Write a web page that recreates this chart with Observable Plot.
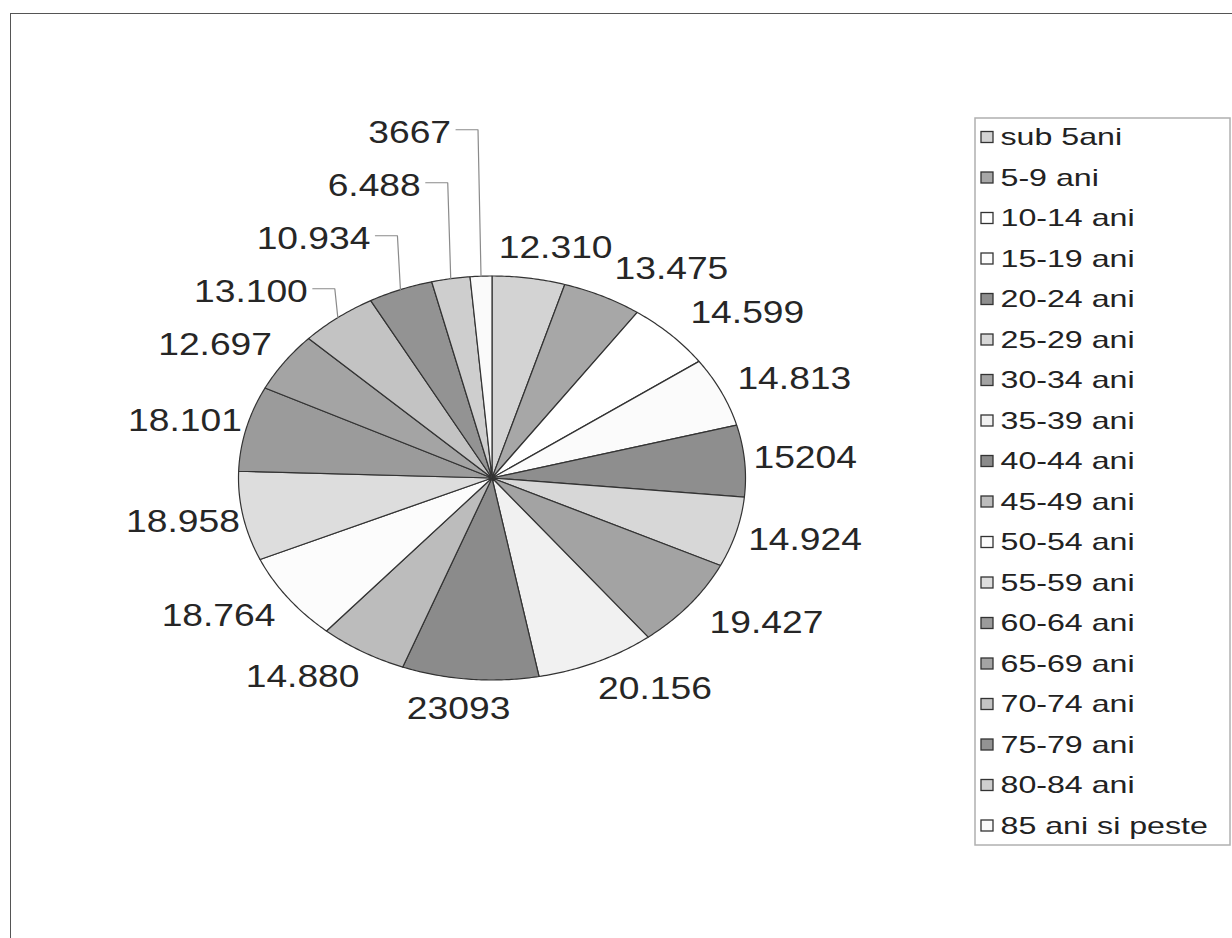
<!DOCTYPE html>
<html><head><meta charset="utf-8">
<script src="https://cdn.jsdelivr.net/npm/d3@7"></script>
<script src="https://cdn.jsdelivr.net/npm/@observablehq/plot@0.6"></script>
<style>
html,body{margin:0;padding:0;background:#fff;}
#wrap{position:relative;width:1232px;height:938px;overflow:hidden;}
#border{position:absolute;left:10px;top:13px;width:1240px;height:940px;border-left:1.5px solid #555;border-top:1.5px solid #555;pointer-events:none;}
</style></head><body>
<div id="wrap"><div id="chart"></div><div id="border"></div></div>
<script>
// ---- data ----
const categories = ["sub 5ani","5-9 ani","10-14 ani","15-19 ani","20-24 ani","25-29 ani","30-34 ani","35-39 ani","40-44 ani","45-49 ani","50-54 ani","55-59 ani","60-64 ani","65-69 ani","70-74 ani","75-79 ani","80-84 ani","85 ani si peste"];
const values = [12310,13475,14599,14813,15204,14924,19427,20156,23093,14880,18764,18958,18101,12697,13100,10934,6488,3667];
const valueLabels = ["12.310","13.475","14.599","14.813","15204","14.924","19.427","20.156","23093","14.880","18.764","18.958","18.101","12.697","13.100","10.934","6.488","3667"];
const fills = ["#d3d3d3","#a7a7a7","#ffffff","#fbfbfb","#8e8e8e","#d7d7d7","#a3a3a3","#f1f1f1","#8b8b8b","#bcbcbc","#fcfcfc","#dddddd","#9b9b9b","#a4a4a4","#c3c3c3","#939393","#cecece","#fafafa"];

// ---- layout ----
const W = 1232, H = 938;
const cx = 491.5, cy = 477.5, rx = 253.5, ry = 202;
const rxBase = 255, rxExtra = 80, ryL = 218, hHalf = 14, gapY = 53, labelDxRight = 7;
const LABEL_FS = 31, LABEL_STRETCH = 1.2;
const LEG_FS = 24, LEG_STRETCH = 1.34;
const legX1 = 975, legX2 = 1230, legY1 = 118, legY2 = 845, legRow0 = 137, legStep = 40.5;
const FONT = '"Liberation Sans", Arial, sans-serif';

const pt = (a, kx = rx, ky = ry) => [cx + kx * Math.sin(a), cy - ky * Math.cos(a)];
const arcs = d3.pie().sort(null).value(d => d)(values);

// slice polygons
const slicePts = [];
arcs.forEach((a, i) => {
  slicePts.push({k: i, x: cx, y: cy, f: fills[i]});
  const n = Math.max(2, Math.ceil((a.endAngle - a.startAngle) / 0.01));
  for (let j = 0; j <= n; j++) {
    const t = a.startAngle + (a.endAngle - a.startAngle) * j / n;
    const [x, y] = pt(t);
    slicePts.push({k: i, x, y, f: fills[i]});
  }
});

// labels
const ctx = document.createElement("canvas").getContext("2d");
ctx.font = `${LABEL_FS}px ${FONT}`;
const labs = arcs.map((a, i) => {
  const m = (a.startAngle + a.endAngle) / 2;
  const s = Math.sin(m), c = Math.cos(m);
  const w = ctx.measureText(valueLabels[i]).width * LABEL_STRETCH;
  const [px, py] = pt(m);
  const rxL = rxBase + rxExtra * c * c;
  return {i, m, s, c, w, px, py, text: valueLabels[i],
          x: cx + (s > 0 ? labelDxRight : 0) + (rxL + w / 2) * s, y: cy - (ryL + hHalf) * c, pushed: false};
});
// upper-left: push upward
const ul = labs.filter(d => d.s < 0 && d.c > 0).sort((a, b) => a.m - b.m);
for (let j = 1; j < ul.length; j++) {
  if (ul[j].y > ul[j - 1].y - gapY) { ul[j].y = ul[j - 1].y - gapY; ul[j].pushed = true; }
}
ul.forEach(d => { if (d.pushed) d.x = d.px - 30 - d.w / 2; });
// right side: resolve horizontal overlap
const rs = labs.filter(d => d.s > 0).sort((a, b) => a.m - b.m);
for (let j = 1; j < rs.length; j++) {
  const p = rs[j - 1], q = rs[j];
  if (Math.abs(q.y - p.y) < 2 * hHalf && q.x - q.w / 2 < p.x + p.w / 2 + 2) q.x = p.x + p.w / 2 + 2 + q.w / 2;
}
const leaders = [];
labs.filter(d => d.pushed).forEach(d => {
  const ex = d.x + d.w / 2;
  leaders.push({k: d.i, x: ex + 5, y: d.y - 3});
  leaders.push({k: d.i, x: d.px - 3, y: d.y - 3});
  leaders.push({k: d.i, x: d.px, y: d.py});
});

// legend
const legend = categories.map((c, i) => ({c, f: fills[i], y: legRow0 + i * legStep}));

const plot = Plot.plot({
  width: W, height: H, margin: 0,
  x: {domain: [0, W], range: [0, W], axis: null},
  y: {domain: [0, H], range: [0, H], axis: null},
  color: {type: "identity"},
  style: {fontFamily: FONT, background: "transparent"},
  marks: [
    Plot.line(slicePts, {x: "x", y: "y", z: "k", fill: "f", stroke: "#333", strokeWidth: 1.2, curve: "linear-closed"}),
    Plot.line(leaders, {x: "x", y: "y", z: "k", stroke: "#8a8a8a", strokeWidth: 1.2}),
    Plot.text(labs, {x: "x", y: "y", text: "text", fontSize: LABEL_FS, fill: "#262626", textAnchor: "middle"}),
    Plot.rect([0], {x1: () => legX1, x2: () => legX2, y1: () => legY1, y2: () => legY2, fill: "white", stroke: "#b0b0b0", strokeWidth: 1.5}),
    Plot.rect(legend, {x1: () => legX1 + 6, x2: () => legX1 + 18, y1: d => d.y - 5.5, y2: d => d.y + 5.5, fill: "f", stroke: "#333", strokeWidth: 1.3}),
    Plot.text(legend, {x: () => legX1 + 25, y: "y", text: "c", fontSize: LEG_FS, fill: "#222", textAnchor: "start"})
  ]
});
document.getElementById("chart").append(plot);
plot.querySelectorAll("text").forEach(t => {
  const g = t.closest("g[font-size]");
  const fs = g ? parseFloat(g.getAttribute("font-size")) : LABEL_FS;
  const k = fs === LEG_FS ? LEG_STRETCH : LABEL_STRETCH;
  const L = t.getComputedTextLength();
  if (L > 0) { t.setAttribute("textLength", (L * k).toFixed(1)); t.setAttribute("lengthAdjust", "spacingAndGlyphs"); }
});
</script>
</body></html>
